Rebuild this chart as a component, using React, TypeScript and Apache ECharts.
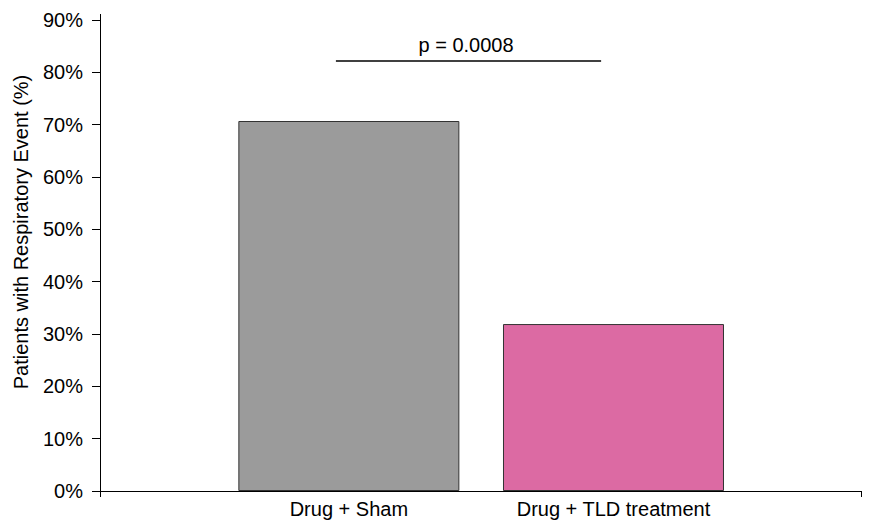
import React, { useEffect, useRef } from "react";
import * as echarts from "echarts";

const categories = ["Drug + Sham", "Drug + TLD treatment"];
const values = [70.7, 31.9];
const barColors = ["#9b9b9b", "#dc6aa3"];
const yTicks = [0, 10, 20, 30, 40, 50, 60, 70, 80, 90];
const pValueLabel = "p = 0.0008";
const yTitle = "Patients with Respiratory Event (%)";

// layout (x positions on a hidden 0..2 value scale)
const barPos = [0.654, 1.3495];
const pLineX = [0.62, 1.317];
const pLineY = 82.2;
const pTextX = 0.962;
const pTextY = 85.3;

const FONT = "Liberation Sans, Arial, Helvetica, sans-serif";

export default function App() {
  const ref = useRef<HTMLDivElement>(null);
  useEffect(() => {
    if (!ref.current) return;
    const chart = echarts.init(ref.current, null, { renderer: "svg" });
    chart.setOption({
      animation: false,
      backgroundColor: "#ffffff",
      grid: { left: 100, right: 8, top: 20, bottom: 30, containLabel: false },
      xAxis: {
        type: "value",
        min: 0,
        max: 2,
        splitLine: { show: false },
        axisLine: { show: true, lineStyle: { color: "#000", width: 1 } },
        axisTick: {
          show: true,
          length: 6,
          lineStyle: { color: "#000" },
          customValues: [0, 2],
        },
        axisLabel: {
          show: true,
          customValues: barPos,
          margin: 8,
          color: "#000",
          fontFamily: FONT,
          fontSize: 20,
          formatter: (v: number) => {
            let best = 0;
            barPos.forEach((p, i) => {
              if (Math.abs(p - v) < Math.abs(barPos[best] - v)) best = i;
            });
            return categories[best];
          },
        },
      },
      yAxis: {
        type: "value",
        min: yTicks[0],
        max: yTicks[yTicks.length - 1],
        interval: 10,
        splitLine: { show: false },
        axisLine: { show: true, lineStyle: { color: "#000", width: 1 } },
        axisTick: { show: true, length: 8, lineStyle: { color: "#000" } },
        axisLabel: {
          margin: 17,
          color: "#000",
          fontFamily: FONT,
          fontSize: 20,
          formatter: "{value}%",
        },
      },
      series: [
        {
          type: "bar",
          barWidth: 221,
          data: values.map((v, i) => ({
            value: [barPos[i], v],
            itemStyle: { color: barColors[i], borderColor: "#333", borderWidth: 1 },
          })),
          markLine: {
            silent: true,
            symbol: "none",
            label: { show: false },
            lineStyle: { color: "#000", width: 1.5, type: "solid" },
            data: [
              [
                { coord: [pLineX[0], pLineY] },
                { coord: [pLineX[1], pLineY] },
              ],
            ],
          },
          markPoint: {
            silent: true,
            symbol: "circle",
            symbolSize: 0,
            data: [
              {
                coord: [pTextX, pTextY],
                label: {
                  show: true,
                  formatter: pValueLabel,
                  color: "#000",
                  fontFamily: FONT,
                  fontSize: 20,
                  position: "inside",
                },
              },
            ],
          },
        },
      ],
      graphic: [
        {
          type: "text",
          x: 21,
          y: 232,
          rotation: Math.PI / 2,
          style: {
            text: yTitle,
            fill: "#000",
            font: `20px ${FONT}`,
            align: "center",
            verticalAlign: "middle",
          },
        },
        {
          type: "line",
          shape: { x1: 100.5, y1: 14, x2: 100.5, y2: 20 },
          style: { stroke: "#000", lineWidth: 1 },
        },
      ],
    });
    return () => chart.dispose();
  }, []);
  return <div ref={ref} style={{ width: 869, height: 521, position: "absolute", left: 0, top: 0 }} />;
}
